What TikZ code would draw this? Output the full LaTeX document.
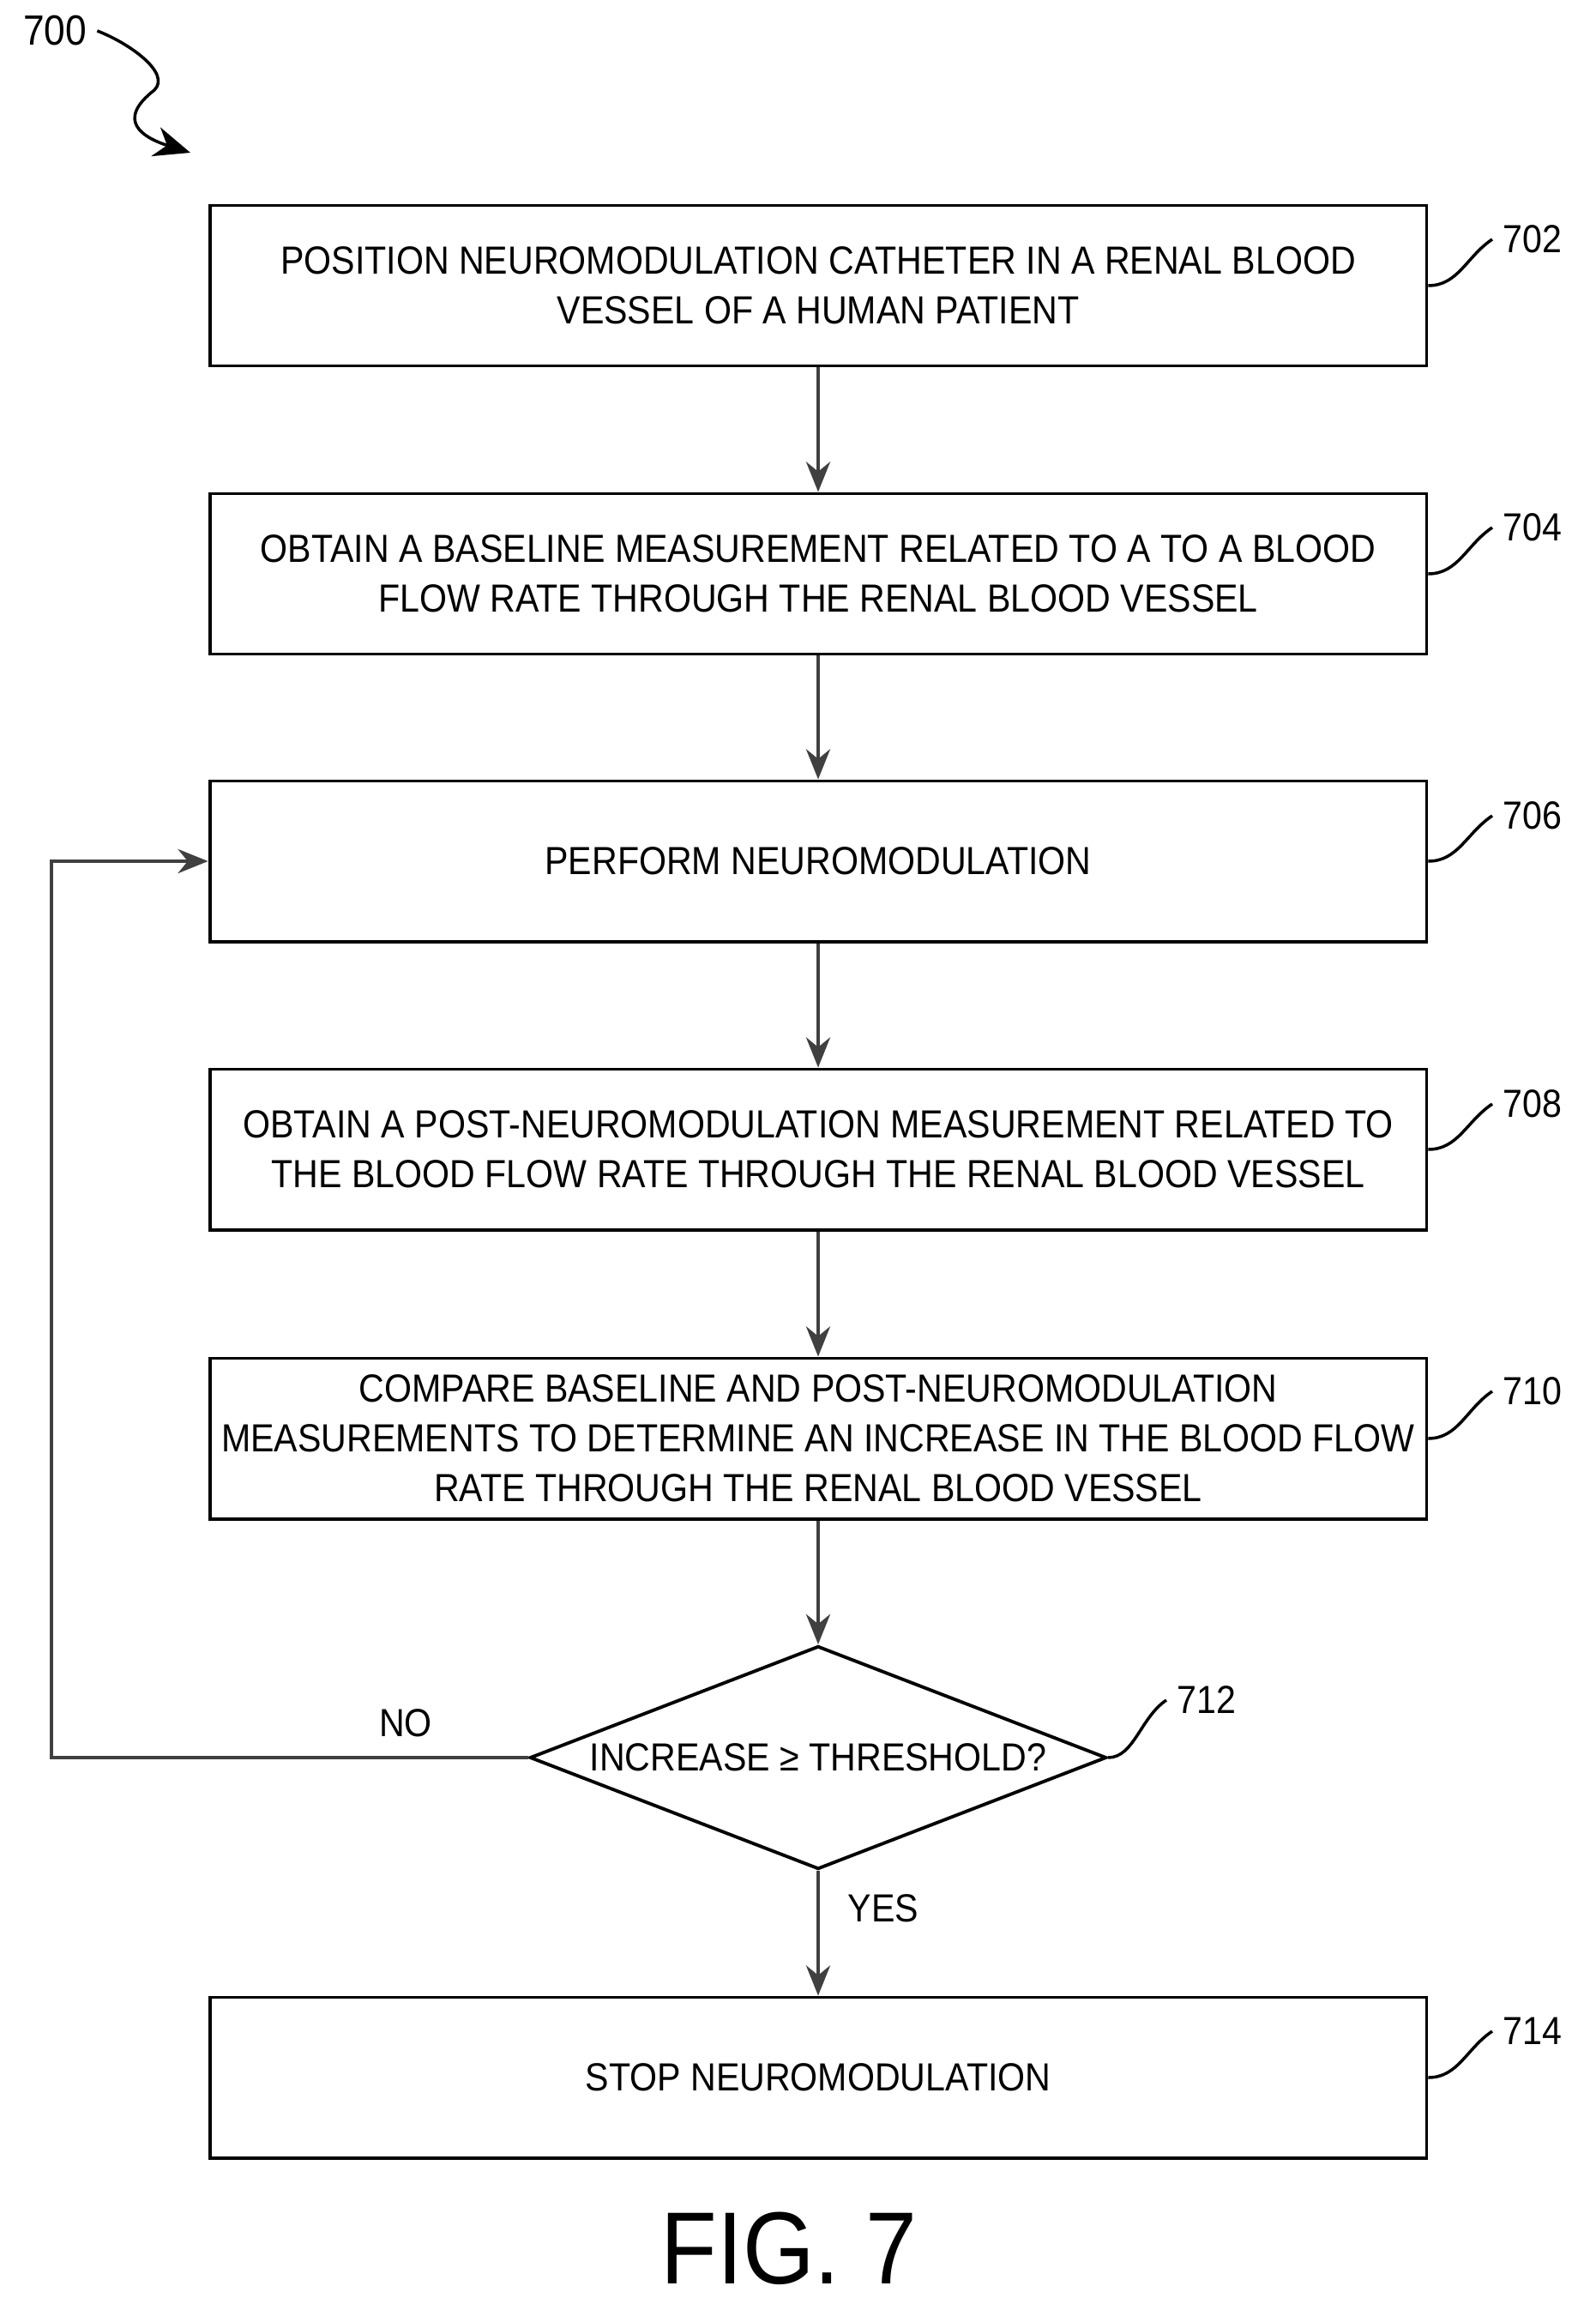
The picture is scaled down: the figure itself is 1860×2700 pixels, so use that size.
\documentclass[tikz,border=0pt]{standalone}
\usepackage{fontspec}
\setmainfont{Liberation Sans}[FakeStretch=0.9]
\usetikzlibrary{shapes.geometric,arrows.meta}

\tikzset{
	stepbox/.style={draw, line width=1.1pt, minimum width=14.18cm, minimum height=1.87cm,
		align=center, font=\fontsize{13}{16.5}\selectfont},
	check/.style={draw, diamond, line width=1.1pt, inner sep=0pt, aspect=2.58,
		minimum width=6.72cm, minimum height=2.6cm, font=\fontsize{13}{16.5}\selectfont},
	flow/.style={line width=1.1pt, draw=black!75, -{Stealth[length=10pt,width=8pt]}},
	lead/.style={line width=1pt},
	refnum/.style={font=\fontsize{13}{16}\selectfont, anchor=west}
}

\begin{document}
\begin{tikzpicture}[x=0.01cm,y=-0.01cm]
	\useasboundingbox (0,0) rectangle (1860,2700);

	%% steps
	\node[stepbox] (s702) at (954,333) {POSITION NEUROMODULATION CATHETER IN A RENAL BLOOD\\VESSEL OF A HUMAN PATIENT};
	\node[stepbox] (s704) at (954,669) {OBTAIN A BASELINE MEASUREMENT RELATED TO A TO A BLOOD\\FLOW RATE THROUGH THE RENAL BLOOD VESSEL};
	\node[stepbox] (s706) at (954,1004) {PERFORM NEUROMODULATION};
	\node[stepbox] (s708) at (954,1340) {OBTAIN A POST-NEUROMODULATION MEASUREMENT RELATED TO\\THE BLOOD FLOW RATE THROUGH THE RENAL BLOOD VESSEL};
	\node[stepbox] (s710) at (954,1677) {COMPARE BASELINE AND POST-NEUROMODULATION\\MEASUREMENTS TO DETERMINE AN INCREASE IN THE BLOOD FLOW\\RATE THROUGH THE RENAL BLOOD VESSEL};
	\node[check] (s712) at (954,2049) {INCREASE ≥ THRESHOLD?};
	\node[stepbox] (s714) at (954,2422) {STOP NEUROMODULATION};

	%% connectors
	\draw[flow] (s702) -- (s704);
	\draw[flow] (s704) -- (s706);
	\draw[flow] (s706) -- (s708);
	\draw[flow] (s708) -- (s710);
	\draw[flow] (s710) -- (s712);
	\draw[flow] (s712) -- (s714) node[pos=0.3, right=6pt, font=\fontsize{13}{16}\selectfont] (yes) {YES};
	\draw[flow] (s712.west) -- (60,2049) |- (s706.west);
	\node[font=\fontsize{13}{16}\selectfont] (no) at (473,2009) {NO};

	%% reference numerals
	\foreach \n/\y in {702/279,704/615,706/951,708/1287,710/1622,714/2368}{
		\node[refnum] (r\n) at (1740,\y) {\n};
	}
	\foreach \n in {702,704,706,708,710,714}{
		\draw[lead] (s\n.east) .. controls +(35,0) and +(-30,20) .. (r\n.west);
	}
	\node[refnum] (r712) at (1360,1982) {712};
	\draw[lead] (s712.east) .. controls +(30,0) and +(-30,20) .. (r712.west);

	\node[font=\fontsize{14}{16}\selectfont] (r700) at (64,36) {700};
	\draw[lead, -{Stealth[length=12pt,width=10pt]}] (r700.east) .. controls (150,50) and (200,85) .. (180,105)
		.. controls (135,140) and (165,160) .. (222,178);

	\node[font=\fontsize{34}{38}\selectfont] (fig) at (920,2621) {FIG. 7};
\end{tikzpicture}
\end{document}
